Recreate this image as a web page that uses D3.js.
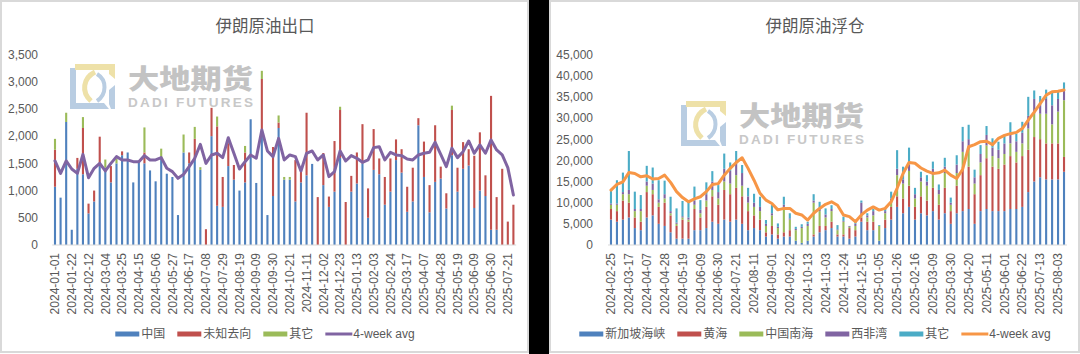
<!DOCTYPE html>
<html>
<head>
<meta charset="utf-8">
<script src="https://cdn.jsdelivr.net/npm/d3@7"></script>
<style>
  body { margin: 0; background: #fff; }
  svg { display: block; font-family: "Liberation Sans", "Noto Sans CJK SC", sans-serif; }
</style>
</head>
<body>
<svg id="chart" width="1080" height="354"></svg>
<script>
// ---- 伊朗原油出口 (weekly) ----
var exportDates = ["2024-01-01","2024-01-08","2024-01-15","2024-01-22","2024-01-29","2024-02-05","2024-02-12","2024-02-19","2024-02-26","2024-03-04",
  "2024-03-11","2024-03-18","2024-03-25","2024-04-01","2024-04-08","2024-04-15","2024-04-22","2024-04-29","2024-05-06","2024-05-13",
  "2024-05-20","2024-05-27","2024-06-03","2024-06-10","2024-06-17","2024-06-24","2024-07-01","2024-07-08","2024-07-15","2024-07-22",
  "2024-07-29","2024-08-05","2024-08-12","2024-08-19","2024-08-26","2024-09-02","2024-09-09","2024-09-16","2024-09-23","2024-09-30",
  "2024-10-07","2024-10-14","2024-10-21","2024-10-28","2024-11-04","2024-11-11","2024-11-18","2024-11-25","2024-12-02","2024-12-09",
  "2024-12-16","2024-12-23","2024-12-30","2025-01-06","2025-01-13","2025-01-20","2025-01-27","2025-02-03","2025-02-10","2025-02-17",
  "2025-02-24","2025-03-03","2025-03-10","2025-03-17","2025-03-24","2025-03-31","2025-04-07","2025-04-14","2025-04-21","2025-04-28",
  "2025-05-05","2025-05-12","2025-05-19","2025-05-26","2025-06-02","2025-06-09","2025-06-16","2025-06-23","2025-06-30","2025-07-07",
  "2025-07-14","2025-07-21","2025-07-28"]
var exportChina = [1070,870,2260,280,1400,1300,580,800,1450,1420,
  1150,1500,1650,1700,1150,1550,1500,1370,1170,1600,
  1310,1250,550,1700,1500,1600,1380,0,2000,720,
  700,1450,1200,1000,1150,2310,1140,2100,550,900,
  2150,1200,1200,800,1150,1280,1490,0,1100,700,
  980,1600,0,980,1130,1500,500,1380,1300,740,
  980,1560,1330,610,800,2200,1250,600,1160,1220,
  670,1650,980,1400,1460,680,1000,900,280,280,
  0,0,0]
var exportUnknown = [680,0,0,0,200,850,180,200,540,0,
  300,0,70,0,0,0,200,0,0,0,
  0,0,0,0,200,350,0,290,520,1460,
  550,420,270,0,550,0,0,950,0,900,
  100,0,0,760,250,1150,0,880,590,190,
  930,880,790,290,570,720,540,750,290,510,
  610,380,430,460,620,130,650,500,1040,220,
  280,830,440,490,300,960,1070,380,2460,600,
  1400,430,740]
var exportOther = [200,0,170,0,0,200,0,0,0,150,
  0,80,0,0,0,0,460,0,0,170,
  0,0,0,330,0,220,50,0,0,180,
  0,0,0,0,120,0,0,150,0,0,
  130,50,50,0,0,0,0,0,0,0,
  0,60,0,0,0,0,0,0,0,0,
  0,0,0,0,0,0,0,0,0,0,
  0,80,0,0,0,0,0,0,0,0,
  0,0,0]
var exportAvg = [1544,1317,1544,1396,1317,1666,1237,1409,1500,1360,
  1500,1623,1562,1562,1531,1531,1642,1562,1562,1605,
  1409,1348,1225,1298,1439,1593,1850,1500,1654,1685,
  1605,1972,1685,1396,1531,1654,1593,2114,1728,1623,
  1960,1562,1654,1623,1360,1685,1728,1562,1654,1256,
  1348,1728,1544,1642,1593,1519,1562,1789,1807,1562,
  1703,1654,1642,1580,1562,1654,1685,1703,1887,1666,
  1439,1777,1605,1715,1911,1685,1838,1685,1930,1746,
  1654,1421,919]
var exportTicks = [0,500,1000,1500,2000,2500,3000,3500]

// ---- 伊朗原油浮仓 (weekly) ----
var floatDates = ["2024-02-25","2024-03-03","2024-03-10","2024-03-17","2024-03-24","2024-03-31","2024-04-07","2024-04-14","2024-04-21","2024-04-28",
  "2024-05-05","2024-05-12","2024-05-19","2024-05-26","2024-06-02","2024-06-09","2024-06-16","2024-06-23","2024-06-30","2024-07-07",
  "2024-07-14","2024-07-21","2024-07-28","2024-08-04","2024-08-11","2024-08-18","2024-08-25","2024-09-01","2024-09-08","2024-09-15",
  "2024-09-22","2024-09-29","2024-10-06","2024-10-13","2024-10-20","2024-10-27","2024-11-03","2024-11-10","2024-11-17","2024-11-24",
  "2024-12-01","2024-12-08","2024-12-15","2024-12-22","2024-12-29","2025-01-05","2025-01-12","2025-01-19","2025-01-26","2025-02-02",
  "2025-02-09","2025-02-16","2025-02-23","2025-03-02","2025-03-09","2025-03-16","2025-03-23","2025-03-30","2025-04-06","2025-04-13",
  "2025-04-20","2025-04-27","2025-05-04","2025-05-11","2025-05-18","2025-05-25","2025-06-01","2025-06-08","2025-06-15","2025-06-22",
  "2025-06-29","2025-07-06","2025-07-13","2025-07-20","2025-07-27","2025-08-03","2025-08-10"]
var floatSingapore = [6000,5500,6000,6500,4000,3500,6500,7000,5000,4500,
  3000,1500,1500,1500,3500,3500,4000,5500,5000,6000,
  5500,6000,5000,3500,4000,3500,2000,2500,1500,2000,
  2000,1000,500,1000,2000,3000,3500,4000,2000,2000,
  1500,2000,5500,3500,3500,1000,4000,6000,9000,7500,
  9000,6000,7500,7000,8000,6000,7500,5000,7500,8000,
  8500,5000,8000,8500,8000,8000,8000,8500,8500,9000,
  12500,15000,16000,15500,15500,15500,17300]
var floatYellowSea = [2500,2500,4500,3500,2500,2000,6000,5000,4000,5500,
  4000,3000,4500,4000,5000,3000,5000,6000,4500,7000,
  6500,7500,6500,4500,3000,2500,1000,2000,1000,1000,
  1500,0,0,0,500,1500,1000,1500,500,500,
  2500,1500,1000,2000,2000,0,2000,3000,2500,3500,
  5000,3000,4000,3500,5500,3500,6000,3000,6500,10000,
  10000,7000,8500,12000,10500,10000,11000,12500,11000,12000,
  10000,10500,9000,8500,8500,8500,3500]
var floatSouthChinaSea = [1000,1500,1500,2000,1500,2500,1500,1000,1000,1000,
  500,500,500,500,1000,1000,1500,1500,1500,2000,
  2500,3000,2500,2000,2000,2000,1500,2500,1500,6000,
  2500,2500,3500,3500,7500,3500,2000,2500,1000,3000,
  300,1000,500,1000,1500,3500,1500,1000,5000,3500,
  3500,2000,3500,3500,3000,2500,3500,1500,3000,4000,
  4000,2500,3000,3000,2500,2500,2500,3000,2500,3000,
  5000,5500,6000,7000,4500,7500,13400]
var floatWestAfrica = [300,300,500,1000,500,500,1000,1500,800,1000,
  500,300,300,500,1000,800,1500,2000,1500,3000,
  3000,3500,3000,1500,1000,1000,500,500,300,500,
  300,300,300,500,500,700,700,500,200,200,
  200,500,3000,500,1000,0,500,1000,1500,1000,
  1500,1000,1000,1000,1500,1000,1500,500,2000,2500,
  2500,1500,2000,2500,2000,2000,2500,2500,2500,2500,
  3000,3500,2500,3500,4500,3000,2300]
var floatOther = [3200,5500,4600,9200,4100,3300,3700,3800,4500,3200,
  3400,3350,3600,3700,3300,2300,2800,2450,1650,3600,
  2000,2200,1900,2000,2100,2400,900,1930,800,1900,
  1200,500,600,500,1500,1500,1450,900,1000,1000,
  0,500,500,500,500,200,600,1600,4400,3000,
  4000,1500,1300,1500,1700,1300,2100,1200,2200,3400,
  3400,1800,2100,2100,2200,1900,1800,2500,1800,2600,
  4500,2000,1700,2200,3200,2000,1900]
var floatAvg = [12970,14300,14900,17100,16900,16100,16350,15600,15700,16500,
  14800,12600,11200,10200,10900,11400,12600,14300,14500,16500,
  18100,19500,20600,18100,15300,12200,10600,9800,8300,8650,
  8650,7500,7100,5900,7500,8650,9600,10200,9400,7100,
  6700,5500,7100,8250,9000,8250,8650,10200,13400,16900,
  19500,19300,18200,17450,16900,17060,17700,16500,15700,17900,
  23200,23700,24400,24500,23700,25200,25900,26300,26600,27500,
  29500,31400,33400,35400,36200,36300,36600]
var floatTicks = [0,5000,10000,15000,20000,25000,30000,35000,40000,45000]

var textColor = '#595959'
var svg = d3.select('#chart')

// panel frames + black divider
svg.append('rect').attr('x', 1).attr('y', 1).attr('width', 527).attr('height', 351)
  .attr('fill', '#fff').attr('stroke', '#d9d9d9').attr('stroke-width', 2)
svg.append('rect').attr('x', 529).attr('y', 0).attr('width', 20).attr('height', 354).attr('fill', '#000')
svg.append('rect').attr('x', 550).attr('y', 1).attr('width', 529).attr('height', 351)
  .attr('fill', '#fff').attr('stroke', '#d9d9d9').attr('stroke-width', 2)

function watermark(x, y) {
  var g = svg.append('g').attr('class', 'watermark').attr('transform', `translate(${x},${y})`)
  var blue = '#b9cde2', yellow = '#eee1a8'
  g.append('path').attr('d', 'M0,4 L6,4 L6,39 L34,39 L39,45 L0,45 Z').attr('fill', blue)
  g.append('path').attr('d', 'M5,0 L45,0 L45,15 L39,10 L39,6 L5,6 Z').attr('fill', yellow)
  g.append('path').attr('d', 'M45,21 L45,45 L41,45 L39,40 L39,26 Z').attr('fill', blue)
  g.append('path').attr('d', 'M25,8 C13,14 11,28 21,37').attr('fill', 'none')
    .attr('stroke', yellow).attr('stroke-width', 5)
  g.append('path').attr('d', 'M27,10 C37,16 37,30 27,37').attr('fill', 'none')
    .attr('stroke', blue).attr('stroke-width', 4)
  g.append('text').text('大地期货')
    .attr('x', 58).attr('y', 25)
    .attr('font-family', '"Noto Sans CJK SC"').attr('font-weight', 900)
    .attr('font-size', '27px').attr('fill', '#c3c3c3')
    .attr('textLength', 125).attr('lengthAdjust', 'spacingAndGlyphs')
  g.append('text').text('DADI FUTURES')
    .attr('x', 58).attr('y', 43)
    .attr('font-weight', 'bold').attr('font-size', '13.5px').attr('fill', '#c8c8c8')
    .attr('textLength', 125).attr('lengthAdjust', 'spacing')
}

function drawPanel(opt) {
  var rows = opt.dates.map(function(d, i) {
    var r = { date: d }
    opt.series.forEach(function(s) { r[s.key] = s.values[i] })
    return r
  })

  var x = d3.scaleBand().domain(opt.dates).range(opt.xRange)
  var y = d3.scaleLinear().domain([0, d3.max(opt.ticks)]).range(opt.yRange)
  var barW = 2.1
  var cx = function(d) { return x(d) + x.bandwidth() / 2 }

  // title
  svg.append('text').text(opt.title)
    .attr('x', opt.center).attr('y', 32)
    .attr('text-anchor', 'middle')
    .attr('font-family', '"Noto Sans CJK SC"')
    .attr('font-size', '16.5px').attr('fill', textColor)

  watermark(opt.mark[0], opt.mark[1])

  // stacked bars
  var stacked = d3.stack().keys(opt.series.map(function(s) { return s.key }))(rows)
  svg.append('g').selectAll('g')
    .data(stacked).enter().append('g')
    .attr('fill', function(d, i) { return opt.series[i].color })
    .selectAll('rect')
    .data(function(d) { return d })
    .enter().append('rect')
    .attr('x', function(d) { return cx(d.data.date) - barW / 2 })
    .attr('width', barW)
    .attr('y', function(d) { return y(d[1]) })
    .attr('height', function(d) { return Math.max(0, y(d[0]) - y(d[1])) })

  // baseline
  svg.append('line')
    .attr('x1', opt.xRange[0]).attr('x2', opt.xRange[1])
    .attr('y1', y(0)).attr('y2', y(0))
    .attr('stroke', '#d9d9d9').attr('stroke-width', 1)

  // 4-week avg
  var line = d3.line()
    .x(function(d, i) { return cx(opt.dates[i]) })
    .y(function(d) { return y(d) })
  svg.append('path')
    .attr('d', line(opt.avg))
    .attr('fill', 'none')
    .attr('stroke', opt.avgColor)
    .attr('stroke-width', 3)
    .attr('stroke-linejoin', 'round')
    .attr('stroke-linecap', 'round')

  // y axis
  var yAxis = svg.append('g')
    .attr('transform', `translate(${opt.yLabelX},0)`)
    .call(d3.axisLeft(y).tickValues(opt.ticks).tickSize(0).tickPadding(0).tickFormat(d3.format(',')))
  yAxis.select('.domain').remove()
  yAxis.selectAll('text').attr('fill', textColor).attr('font-size', '12px')
    .attr('font-family', '"Liberation Sans", sans-serif')

  // x axis, every third week
  var xAxis = svg.append('g')
    .attr('transform', `translate(0,${y(0)})`)
    .call(d3.axisBottom(x).tickValues(opt.dates.filter(function(d, i) { return i % 3 === 0 })).tickSize(0))
  xAxis.select('.domain').remove()
  xAxis.selectAll('text')
    .attr('transform', 'rotate(-90)')
    .attr('text-anchor', 'end')
    .attr('x', -8).attr('y', 0).attr('dy', '0.35em')
    .attr('fill', textColor).attr('font-size', '12px')
    .attr('font-family', '"Liberation Sans", sans-serif')

  // legend
  var items = opt.series.map(function(s) { return { name: s.key, color: s.color, type: 'bar' } })
  items.push({ name: '4-week avg', color: opt.avgColor, type: 'line' })
  var lg = svg.append('g')
  var cursor = 0
  items.forEach(function(it) {
    var g = lg.append('g').attr('transform', `translate(${cursor},0)`)
    if (it.type === 'bar') {
      g.append('rect').attr('x', 0).attr('y', -2.5).attr('width', 24).attr('height', 5).attr('fill', it.color)
    } else {
      g.append('line').attr('x1', 0).attr('x2', 27).attr('y1', 0).attr('y2', 0)
        .attr('stroke', it.color).attr('stroke-width', 3)
    }
    var t = g.append('text').text(it.name)
      .attr('x', it.type === 'bar' ? 26 : 28).attr('y', 0).attr('dy', '0.36em')
      .attr('font-size', '12px').attr('fill', textColor)
    cursor += (it.type === 'bar' ? 26 : 28) + t.node().getComputedTextLength() + 12
  })
  var lw = cursor - 12
  lg.attr('transform', `translate(${opt.center - lw / 2},334)`)
}

drawPanel({
  title: '伊朗原油出口',
  center: 265,
  dates: exportDates,
  ticks: exportTicks,
  xRange: [52.2, 516.2],
  yRange: [245, 54.5],
  yLabelX: 38,
  mark: [70, 64],
  avg: exportAvg,
  avgColor: '#8064a2',
  series: [
    { key: '中国', values: exportChina, color: '#4f81bd' },
    { key: '未知去向', values: exportUnknown, color: '#c0504d' },
    { key: '其它', values: exportOther, color: '#9bbb59' }
  ]
})

drawPanel({
  title: '伊朗原油浮仓',
  center: 815,
  dates: floatDates,
  ticks: floatTicks,
  xRange: [608, 1067],
  yRange: [245, 54.5],
  yLabelX: 593,
  mark: [681, 101],
  avg: floatAvg,
  avgColor: '#f79646',
  series: [
    { key: '新加坡海峡', values: floatSingapore, color: '#4f81bd' },
    { key: '黄海', values: floatYellowSea, color: '#c0504d' },
    { key: '中国南海', values: floatSouthChinaSea, color: '#9bbb59' },
    { key: '西非湾', values: floatWestAfrica, color: '#8064a2' },
    { key: '其它', values: floatOther, color: '#4bacc6' }
  ]
})
</script>
</body>
</html>
